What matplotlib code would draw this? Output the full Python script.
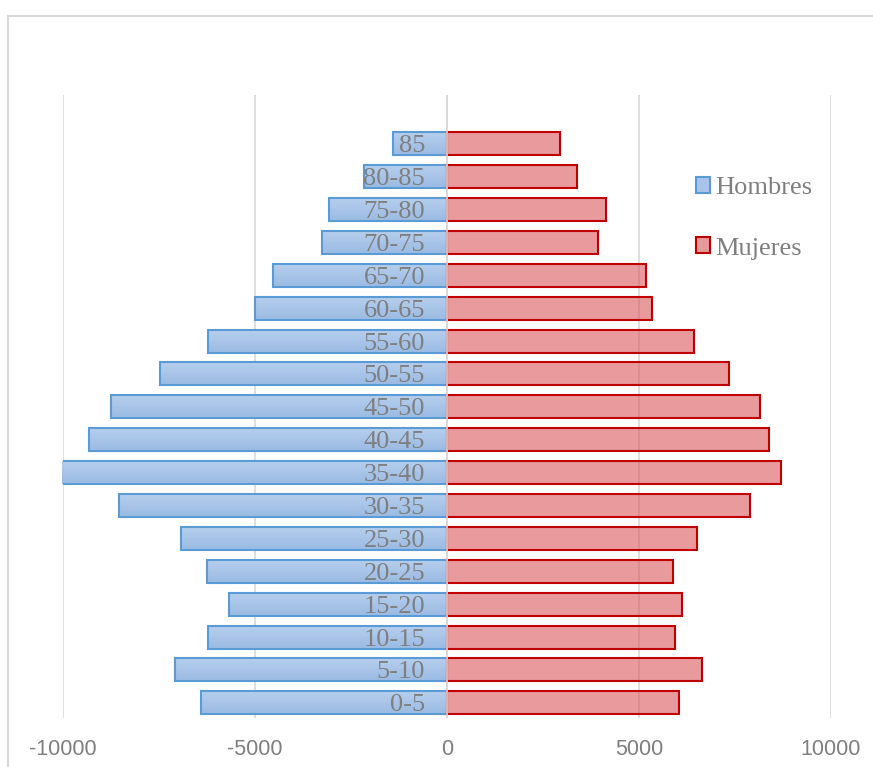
import matplotlib.pyplot as plt
from matplotlib.colors import LinearSegmentedColormap
from matplotlib.lines import Line2D
from matplotlib.patches import Patch
import numpy as np

# Population pyramid by 5-year age group
age_groups = ["0-5", "5-10", "10-15", "15-20", "20-25", "25-30", "30-35", "35-40",
              "40-45", "45-50", "50-55", "55-60", "60-65", "65-70", "70-75",
              "75-80", "80-85", "85"]
hombres = [6400, 7080, 6220, 5680, 6250, 6930, 8540, 10030,
           9320, 8750, 7480, 6220, 5000, 4530, 3260, 3080, 2150, 1400]
mujeres = [6040, 6640, 5940, 6120, 5890, 6510, 7890, 8700,
           8390, 8150, 7340, 6430, 5350, 5190, 3930, 4140, 3390, 2940]
xticks = [-10000, -5000, 0, 5000, 10000]

GRAY = "#7f7f7f"
SERIF = ["Liberation Serif", "DejaVu Serif"]
NARROW = ["Liberation Sans Narrow", "Liberation Sans", "DejaVu Sans"]

fig = plt.figure(figsize=(8.73, 7.67), dpi=100)
ax = fig.add_axes([63 / 873, 49 / 767, 768 / 873, 623 / 767])

y = np.arange(len(age_groups))
bars_h = ax.barh(y, -np.array(hombres), height=0.7, color="none",
                 edgecolor="#5b9bd5", linewidth=1.5, zorder=3)
ax.barh(y, mujeres, height=0.7, color="#d9575a", alpha=0.6,
        edgecolor="none", zorder=3)
ax.barh(y, mujeres, height=0.7, facecolor="none",
        edgecolor="#c00000", linewidth=1.5, zorder=4)

# vertical gradient fill for the male bars
blue_grad = LinearSegmentedColormap.from_list("blue_grad", ["#9bbbe3", "#b6cfed"])
grad = np.linspace(0, 1, 64).reshape(-1, 1)
for bar in bars_h:
    x0, y0 = bar.get_x(), bar.get_y()
    w, h = bar.get_width(), bar.get_height()
    im = ax.imshow(grad, cmap=blue_grad, aspect="auto", origin="lower",
                   extent=(x0, x0 + w, y0, y0 + h), zorder=2.9)
    im.set_clip_path(bar)

# age labels sit inside the male bars, right-aligned near the zero line
for yi, lab in zip(y, age_groups):
    ax.text(-570, yi, lab, ha="right", va="center_baseline", fontsize=19,
            color=GRAY, family=SERIF, zorder=5)

ax.axvline(0, color="#d9d9d9", linewidth=1.2, zorder=4.5)

ax.set_xlim(-10000, 10000)
ax.set_ylim(-0.46, 18.48)
ax.set_xticks(xticks)
ax.set_xticklabels([str(t) for t in xticks], fontsize=15.5, color=GRAY,
                   family=NARROW)
ax.set_yticks([])
ax.tick_params(axis="x", length=0, pad=15)
ax.grid(axis="x", color="#d9d9d9", linewidth=1.2, zorder=0)
for s in ax.spines.values():
    s.set_visible(False)

handles = [Patch(facecolor="#a9c4e8", edgecolor="#5b9bd5", linewidth=1.5),
           Patch(facecolor="#e59a9c", edgecolor="#c00000", linewidth=1.5)]
leg = fig.legend(handles, ["Hombres", "Mujeres"], loc="upper left",
                 bbox_to_anchor=(672 / 873, 1 - 153 / 767), frameon=False,
                 handlelength=0.55, handleheight=0.55, handletextpad=0.2,
                 labelspacing=1.45, prop={"family": SERIF, "size": 19})
for t in leg.get_texts():
    t.set_color(GRAY)

# chart frame (left and top edges fall inside the canvas)
fig.add_artist(Line2D([7.5 / 873, 7.5 / 873], [0, 1 - 16 / 767],
                      transform=fig.transFigure, color="#d9d9d9", linewidth=1.5))
fig.add_artist(Line2D([7.5 / 873, 1], [1 - 16 / 767, 1 - 16 / 767],
                      transform=fig.transFigure, color="#d9d9d9", linewidth=1.5))

fig.savefig("out.png", dpi=100)
